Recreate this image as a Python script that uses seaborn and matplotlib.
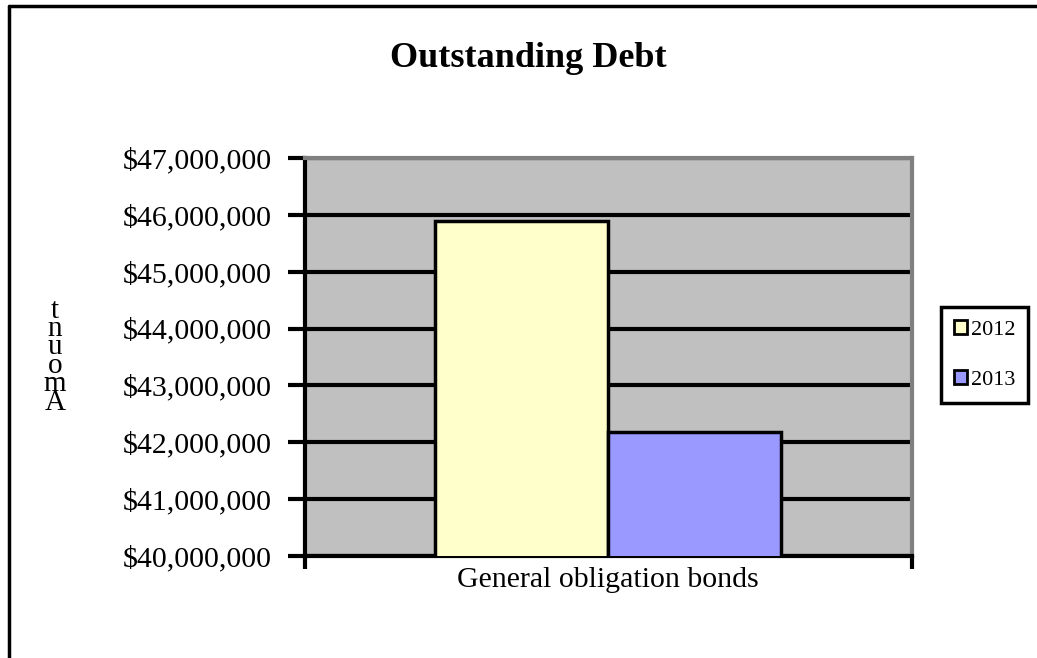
import pandas as pd
import matplotlib.pyplot as plt
import seaborn as sns
from matplotlib.lines import Line2D
from matplotlib.ticker import FuncFormatter, FixedLocator

# data
categories = ["General obligation bonds"]
years = ["2012", "2013"]
amounts = [45890000, 42180000]
bar_colors = ["#FFFFCC", "#9999FF"]

df = pd.DataFrame({
    "Category": categories * len(years),
    "Year": years,
    "Amount": amounts,
})

sns.set_theme(style="white")
plt.rcParams["font.family"] = ["Liberation Serif", "DejaVu Serif"]
plt.rcParams["text.color"] = "black"
plt.rcParams["xtick.color"] = "black"
plt.rcParams["ytick.color"] = "black"

fig = plt.figure(figsize=(10.37, 6.58), dpi=100)
ax = fig.add_axes([0.294, 0.155, 0.585, 0.605])
ax.set_facecolor("#C0C0C0")

sns.barplot(data=df, x="Category", y="Amount", hue="Year",
            palette=bar_colors, width=0.57, edgecolor="black",
            linewidth=2.5, saturation=1, ax=ax, zorder=3)

ax.set_ylim(40000000, 47000000)
ax.set_xlim(-0.5, 0.5)
ax.yaxis.set_major_locator(FixedLocator(range(40000000, 47000001, 1000000)))
ax.yaxis.set_major_formatter(FuncFormatter(lambda v, p: "${:,.0f}".format(v)))
ax.grid(axis="y", color="black", linewidth=3, zorder=1)
ax.set_axisbelow(True)

ax.tick_params(axis="y", length=12, width=3, direction="out", color="black",
               labelsize=21.5, pad=12, left=True)
ax.tick_params(axis="x", which="major", length=0, labelsize=21.5, pad=8)
ax.set_xticks([-0.5, 0.5], minor=True)
ax.tick_params(axis="x", which="minor", length=9, width=3, direction="out",
               color="black", bottom=True)

for side in ["left", "bottom"]:
    ax.spines[side].set_color("black")
    ax.spines[side].set_linewidth(3)
for side in ["top", "right"]:
    ax.spines[side].set_color("#808080")
    ax.spines[side].set_linewidth(3)

ax.set_xlabel("")
ax.set_ylabel("")

# stacked y label
fig.text(0.053, 0.458, "t\nn\nu\no\nm\nA", ha="center", va="center",
         fontsize=21, linespacing=0.62)

fig.text(0.509, 0.911, "Outstanding Debt", ha="center", va="center",
         fontsize=26, fontweight="bold")

leg = ax.legend(loc="upper left", bbox_to_anchor=(0.907, 0.534),
                bbox_transform=fig.transFigure, frameon=True, fontsize=16,
                handlelength=0.6, handleheight=0.6, handletextpad=0.15,
                labelspacing=1.35, borderpad=0.6, borderaxespad=0,
                fancybox=False, framealpha=1)
leg.get_frame().set_edgecolor("black")
leg.get_frame().set_linewidth(2.5)
for h in leg.legend_handles:
    h.set_edgecolor("black")
    h.set_linewidth(2)

# chart border (left and top only visible)
fig.add_artist(Line2D([0.009, 0.009], [0.0, 0.991], color="black", linewidth=2.5,
                      transform=fig.transFigure))
fig.add_artist(Line2D([0.009, 1.0], [0.991, 0.991], color="black", linewidth=2.5,
                      transform=fig.transFigure))

fig.savefig("out.png", dpi=100)
